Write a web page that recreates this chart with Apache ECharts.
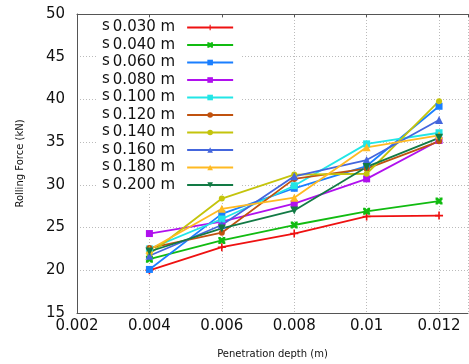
<!DOCTYPE html>
<html><head><meta charset="utf-8">
<script src="https://cdn.jsdelivr.net/npm/echarts@6/dist/echarts.min.js"></script>
<style>html,body{margin:0;padding:0;background:#fff}#c{width:469px;height:364px}</style>
</head><body><div id="c"></div>
<script>
const depths = [0.004, 0.006, 0.008, 0.010, 0.012];
const seriesNames = ['0.030 m','0.040 m','0.060 m','0.080 m','0.100 m','0.120 m','0.140 m','0.160 m','0.180 m','0.200 m'];
const s030 = [20.0, 22.7, 24.3, 26.3, 26.4];
const s040 = [21.3, 23.5, 25.3, 26.9, 28.1];
const s060 = [20.1, 26.6, 29.6, 32.2, 39.2];
const s080 = [24.3, 25.7, 27.8, 30.7, 35.2];
const s100 = [22.5, 26.0, 29.9, 34.8, 36.1];
const s120 = [22.6, 24.4, 30.7, 31.9, 35.1];
const s140 = [21.9, 28.4, 31.2, 31.3, 39.8];
const s160 = [21.7, 25.3, 31.0, 32.9, 37.6];
const s180 = [22.4, 27.2, 28.5, 34.4, 35.8];
const s200 = [22.2, 24.9, 27.0, 32.1, 35.5];
const yTicks = [15, 20, 25, 30, 35, 40, 45, 50];

const values = [s030,s040,s060,s080,s100,s120,s140,s160,s180,s200];
const colors = ['#ee1111','#11bb11','#1a7fff','#b010ee','#22e6e6','#c0520f','#c4c40c','#4466dd','#ffba22','#127a45'];
const plus = 'path://M4,0 L6,0 L6,4 L10,4 L10,6 L6,6 L6,10 L4,10 L4,6 L0,6 L0,4 L4,4 Z';
const xmark = 'path://M0,0 L3,0 L5,2 L7,0 L10,0 L10,3 L8,5 L10,7 L10,10 L7,10 L5,8 L3,10 L0,10 L0,7 L2,5 L0,3 Z';
const symbols = [plus, xmark, 'rect', 'rect', 'rect', 'circle', 'circle', 'triangle', 'triangle', 'path://M0,0 L10,0 L5,9 Z'];
const sizes = [8, 7, 7, 7, 7, 6, 6, 8, 8, 8];

const series = values.map((v, i) => ({
  name: seriesNames[i],
  type: 'line',
  z: 3,
  data: depths.map((d, j) => [d, v[j]]),
  symbol: symbols[i],
  symbolSize: sizes[i],
  showAllSymbol: true,
  lineStyle: { color: colors[i], width: 1.8 },
  itemStyle: { color: colors[i] },
  emphasis: { disabled: true },
  animation: false
}));

const chart = echarts.init(document.getElementById('c'));
chart.setOption({
  animation: false,
  grid: { left: 77, top: 14, right: 1, bottom: 50, containLabel: false },
  legend: {
    z: 1,
    left: 98, top: 19,
    orient: 'vertical',
    align: 'right',
    itemWidth: 46, itemHeight: 7,
    itemGap: 0.5,
    padding: [0, 6, 0, 4],
    backgroundColor: '#fff',
    data: seriesNames,
    formatter: n => '{s|s}{v|' + n + '}',
    textStyle: {
      rich: {
        s: { fontFamily: 'DejaVu Sans', fontSize: 15, lineHeight: 17, color: '#111', verticalAlign: 'top', padding: [0, 3, 2, 0] },
        v: { fontFamily: 'DejaVu Sans', fontSize: 15, lineHeight: 17, color: '#111', padding: [0, 7, 0, 0] }
      }
    }
  },
  xAxis: [{
    type: 'value', min: 0.002, max: 0.0128, interval: 0.002,
    name: 'Penetration depth (m)', nameLocation: 'middle', nameGap: 36,
    nameTextStyle: { fontFamily: 'DejaVu Sans', fontSize: 10, color: '#111' },
    axisLine: { show: true, lineStyle: { color: '#555', width: 1 } },
    axisTick: { show: false },
    axisLabel: { fontFamily: 'DejaVu Sans', fontSize: 15, color: '#111', margin: 6,
      formatter: v => String(Math.round(v * 1000) / 1000) },
    splitLine: { show: true, lineStyle: { color: '#bbb', type: [1, 2], width: 1 } }
  }, {
    type: 'value', position: 'top', min: 0.002, max: 0.0128, interval: 0.002,
    axisLine: { show: true, lineStyle: { color: '#555', width: 1 } },
    axisTick: { show: true, inside: true, length: 3, lineStyle: { color: '#555' } },
    axisLabel: { show: false }, splitLine: { show: false }
  }],
  yAxis: {
    type: 'value', min: 15, max: 50, interval: 5,
    name: 'Rolling Force (kN)', nameLocation: 'middle', nameGap: 52,
    nameTextStyle: { fontFamily: 'DejaVu Sans', fontSize: 10, color: '#111' },
    axisLine: { show: true, lineStyle: { color: '#555', width: 1 } },
    axisTick: { show: false },
    axisLabel: { fontFamily: 'DejaVu Sans', fontSize: 15, color: '#111', margin: 12,
      formatter: v => yTicks.includes(v) ? String(v) : '' },
    splitLine: { show: true, lineStyle: { color: '#bbb', type: [1, 2], width: 1 } }
  },
  series: series
});
</script></body></html>
